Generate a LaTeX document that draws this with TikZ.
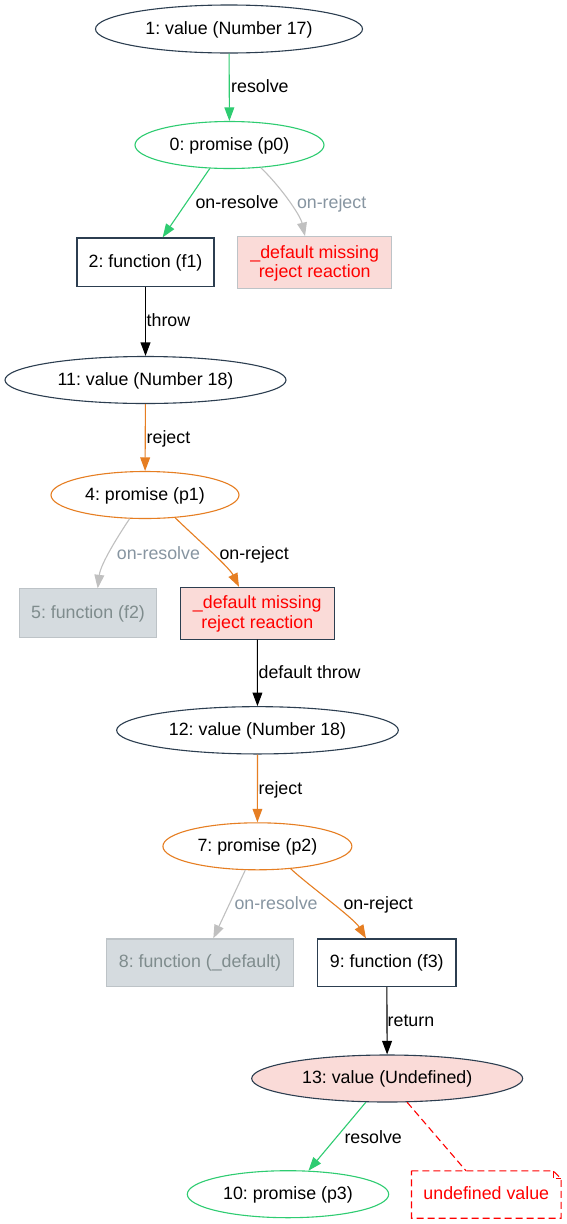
\documentclass[tikz,border=0pt]{standalone}
\usepackage{fontspec}
\setmainfont{Liberation Sans}
\frenchspacing
\usetikzlibrary{shapes.geometric,arrows.meta}
\definecolor{dark}{HTML}{2C3E50}
\definecolor{pgreen}{HTML}{2ECC71}
\definecolor{porange}{HTML}{E67E22}
\definecolor{greyline}{HTML}{C0C0C0}
\definecolor{greyborder}{HTML}{BDC3C7}
\definecolor{greyfill}{HTML}{D5DBDF}
\definecolor{greytext}{HTML}{7F8C8D}
\definecolor{greylabel}{HTML}{8795A1}
\definecolor{pinkfill}{HTML}{FADBD8}
\definecolor{pred}{HTML}{FF0000}
\begin{document}
\begin{tikzpicture}[x=1pt,y=-1pt,
  every node/.style={font=\fontsize{17.8}{19.5}\selectfont, inner sep=0pt, text height=12.8pt, text depth=2.5pt},
  ell/.style={ellipse, draw=dark, line width=1.1pt},
  box/.style={rectangle, draw=dark, line width=1.1pt},
  greynode/.style={rectangle, draw=greyborder, fill=greyfill, text=greytext, line width=1.1pt},
  missing/.style={rectangle, fill=pinkfill, text=pred, align=center, text height=32.5pt, text depth=2.5pt, line width=1.1pt},
  notebox/.style={rectangle, text=pred},
  notedash/.style={draw=pred, line width=1.1pt, dash pattern=on 7pt off 4pt},
  lbl/.style={anchor=west, text depth=0pt},
  glbl/.style={lbl, text=greylabel},
  arr/.style={line width=1.1pt, -{Triangle[length=13.5pt,width=9.8pt]}},
  greyarr/.style={arr, draw=greyline}
]
\fill[white] (0,0) rectangle (567,1224);
\useasboundingbox (0,0) rectangle (567,1224);

\node[ell, minimum width=267pt, minimum height=48pt] (n1) at (229,29) {1: value (Number 17)};
\node[ell, draw=pgreen, minimum width=189pt, minimum height=47pt] (n0) at (229.5,145) {0: promise (p0)};
\node[box, minimum width=137pt, minimum height=48.7pt] (n2) at (145.5,262.3) {2: function (f1)};
\node[missing, draw=greyborder, minimum width=154pt, minimum height=51.7pt] (d1) at (314.7,262.5) {\_default missing\\reject reaction};
\node[ell, minimum width=281pt, minimum height=47pt] (n11) at (145.5,380) {11: value (Number 18)};
\node[ell, draw=porange, minimum width=188pt, minimum height=47pt] (n4) at (145,495) {4: promise (p1)};
\node[greynode, minimum width=137.4pt, minimum height=48.3pt] (n5) at (88,613) {5: function (f2)};
\node[missing, draw=dark, minimum width=154pt, minimum height=51.7pt] (d2) at (257.3,613.2) {\_default missing\\reject reaction};
\node[ell, minimum width=281.7pt, minimum height=47.3pt] (n12) at (257.5,730.3) {12: value (Number 18)};
\node[ell, draw=porange, minimum width=189pt, minimum height=47pt] (n7) at (257.4,846.3) {7: promise (p2)};
\node[greynode, minimum width=186.7pt, minimum height=47.7pt] (n8) at (200,962.8) {8: function (\_default)};
\node[box, minimum width=138.3pt, minimum height=47.7pt] (n9) at (386.8,962.8) {9: function (f3)};
\node[ell, fill=pinkfill, minimum width=271pt, minimum height=47pt] (n13) at (387.2,1078.5) {13: value (Undefined)};
\node[ell, draw=pgreen, minimum width=201.4pt, minimum height=47pt] (n10) at (288,1194.2) {10: promise (p3)};
\node[notebox, minimum width=149.3pt, minimum height=47pt] (nt) at (486.3,1194.5) {undefined value};

\draw[notedash] (nt.north west) -- ([xshift=-8pt]nt.north east) -- ([yshift=-8pt]nt.north east) -- (nt.south east) -- (nt.south west) -- cycle;
\draw[notedash] ([xshift=-8pt]nt.north east) -- ([xshift=-8pt,yshift=-8pt]nt.north east) -- ([yshift=-8pt]nt.north east);

\draw[arr, draw=pgreen] (n1) -- (n0);
\draw[arr, draw=pgreen] (n0.230) -- ([xshift=17.1pt]n2.north);
\draw[greyarr] (n0.324) .. controls +(18,17) and +(-5,-22) .. ([xshift=-9.7pt]d1.north);
\draw[arr, draw=black] (n2) -- (n11);
\draw[arr, draw=porange] (n11) -- (n4);
\draw[greyarr] (n4.237) .. controls +(-10,15) and +(3,-25) .. ([xshift=9.7pt]n5.north);
\draw[arr, draw=porange] (n4.323) .. controls +(14,14) and +(-10,-20) .. ([xshift=-18.3pt]d2.north);
\draw[arr, draw=black] (d2) -- (n12);
\draw[arr, draw=porange] (n12) -- (n7);
\draw[greyarr] (n7.243) -- ([xshift=13.3pt]n8.north);
\draw[arr, draw=porange] (n7.326) .. controls +(16,15) and +(-12,-20) .. ([xshift=-20.8pt]n9.north);
\draw[arr, draw=black] (n9) -- (n13);
\draw[arr, draw=pgreen] (n13.228) -- (n10.49);
\draw[notedash] (n13.310) -- ([xshift=-20.3pt]nt.north);

\node[lbl] (l1) at (231,86.3) {resolve};
\node[lbl] (l2) at (195.3,201.7) {on-resolve};
\node[glbl] (l3) at (296.8,201.7) {on-reject};
\node[lbl] (l4) at (146.5,320.5) {throw};
\node[lbl] (l5) at (146.5,437.5) {reject};
\node[glbl] (l6) at (116.7,553) {on-resolve};
\node[lbl] (l7) at (219.3,553) {on-reject};
\node[lbl] (l8) at (258.5,672) {default throw};
\node[lbl] (l9) at (258.5,788) {reject};
\node[glbl] (l10) at (234.3,903.5) {on-resolve};
\node[lbl] (l11) at (343.3,903.5) {on-reject};
\node[lbl] (l12) at (387.5,1020.5) {return};
\node[lbl] (l13) at (344.3,1136.7) {resolve};
\end{tikzpicture}
\end{document}
